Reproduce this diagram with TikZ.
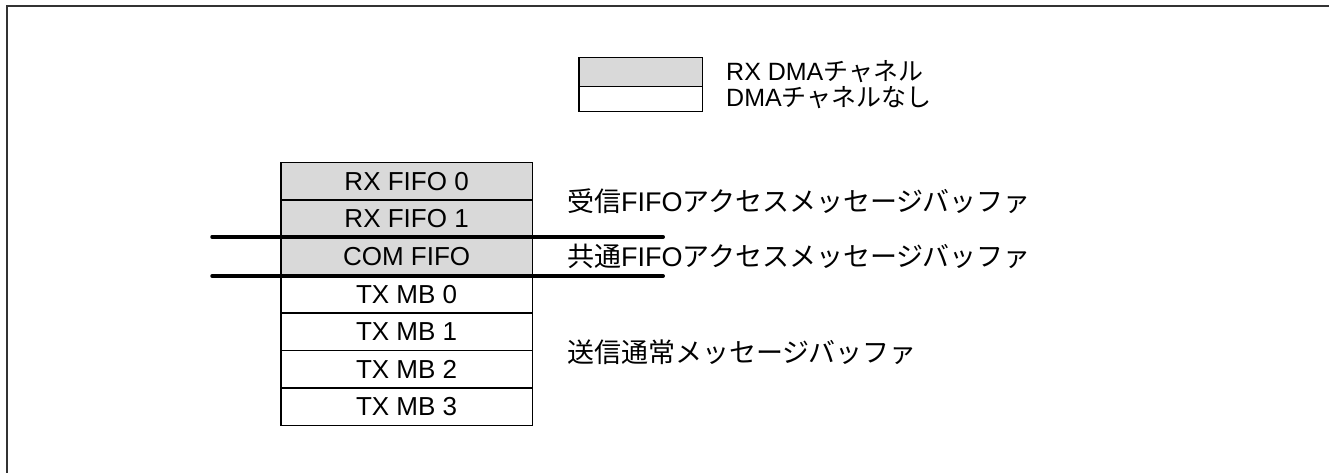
\documentclass[tikz,border=0pt]{standalone}
\usepackage{fontspec}
\setmainfont{Liberation Sans}
\newfontfamily\jp{Noto Sans CJK JP}
\definecolor{cellgray}{RGB}{217,217,217}
\begin{document}
\begin{tikzpicture}[x=1pt,y=-1pt,
  txt/.style={font=\fontsize{26}{30}\selectfont},
  cell/.style={draw=black,line width=1.5pt,minimum width=251.7pt,minimum height=37.6pt,inner sep=0pt,anchor=north west,txt},
  dmacell/.style={cell,fill=cellgray},
  plaincell/.style={cell,fill=white},
  lbl/.style={anchor=west,inner sep=0pt,font=\fontsize{27}{30}\selectfont},
  sep/.style={line width=3.5pt,line cap=round}]
\useasboundingbox (0,0) rectangle (1329,473);
% frame
\draw[line width=2pt,draw=black!80] (6.5,473) -- (6.5,6) -- (1329,6);
% legend
\node[dmacell,minimum width=123.7pt,minimum height=29.3pt] (lg) at (578,56.7) {};
\node[plaincell,minimum width=123.7pt,minimum height=25pt] (lw) at (578,86) {};
\node[lbl,font=\fontsize{25}{28}\selectfont] (lgt) at (726,71.7) {RX DMA{\jp チャネル}};
\node[lbl,font=\fontsize{25}{28}\selectfont] (lwt) at (726,98) {DMA{\jp チャネルなし}};
% stack
\node[dmacell] (r0) at (280,161.7) {RX FIFO 0};
\node[dmacell] (r1) at (280,199.3) {RX FIFO 1};
\node[dmacell] (com) at (280,236.9) {COM FIFO};
\node[plaincell] (t0) at (280,274.5) {TX MB 0};
\node[plaincell] (t1) at (280,312.1) {TX MB 1};
\node[plaincell] (t2) at (280,349.7) {TX MB 2};
\node[plaincell] (t3) at (280,387.3) {TX MB 3};
% separators
\draw[sep] ([xshift=-68pt]com.north west) -- ([xshift=130pt]com.north east);
\draw[sep] ([xshift=-68pt]com.south west) -- ([xshift=130pt]com.south east);
% labels
\node[lbl] (lrx) at (567,201) {{\jp 受信}FIFO{\jp アクセスメッセージバッファ}};
\node[lbl] (lcom) at (567,256) {{\jp 共通}FIFO{\jp アクセスメッセージバッファ}};
\node[lbl] (ltx) at (567,352) {{\jp 送信通常メッセージバッファ}};
\end{tikzpicture}
\end{document}
